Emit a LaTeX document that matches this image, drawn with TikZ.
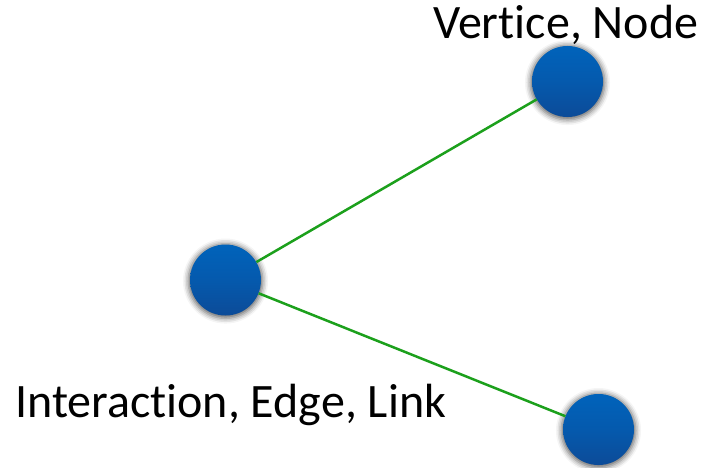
\documentclass[tikz,border=0pt]{standalone}
\usepackage{fontspec}
\setmainfont[Ligatures=NoCommon]{Carlito}
\usetikzlibrary{shadows.blur}
\definecolor{ntop}{RGB}{0,99,187}
\definecolor{nbot}{RGB}{12,75,152}
\definecolor{edgegreen}{RGB}{28,160,28}
\begin{document}
\begin{tikzpicture}[x=1pt,y=-1pt,
  vertex/.style={circle,minimum size=71pt,inner sep=0pt,top color=ntop,bottom color=nbot,middle color=ntop!60!nbot,
    blur shadow={shadow xshift=0pt,shadow yshift=-1pt,shadow blur radius=5pt,shadow scale=1.05,shadow opacity=60}},
  link/.style={draw=edgegreen,line width=2.5pt},
  lbl/.style={font=\fontsize{48}{58}\selectfont,inner sep=0pt,anchor=base west}]
\useasboundingbox (0,0) rectangle (702,468);
\node[vertex] (a) at (567.5,81.5) {};
\node[vertex] (b) at (225.5,280) {};
\node[vertex] (c) at (598.5,429.5) {};
\draw[link] (b) -- (a);
\draw[link] (b) -- (c);
\node[lbl] (t1) at (433,39) {Vertice, Node};
\node[lbl] (t2) at (15,417) {Interaction, Edge, Link};
\end{tikzpicture}
\end{document}
